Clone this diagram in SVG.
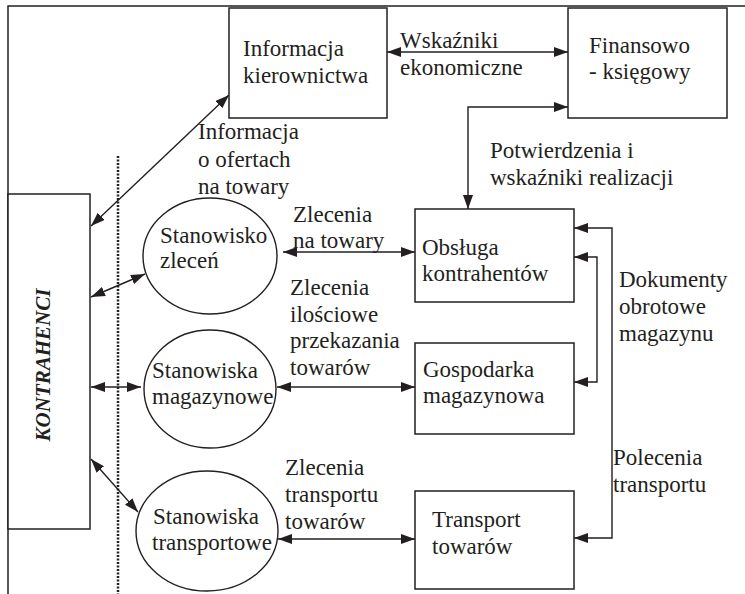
<svg xmlns="http://www.w3.org/2000/svg" width="745" height="594" viewBox="0 0 745 594">
<style>
text{font-family:"Liberation Serif","Times New Roman",serif;font-size:23px;fill:#231f20}
.box{fill:#fff;stroke:#231f20;stroke-width:1.5}
.ell{fill:#fff;stroke:#231f20;stroke-width:1.4}
.ln{fill:none;stroke:#231f20;stroke-width:1.4;marker-start:url(#ah);marker-end:url(#ah)}
.frame{fill:none;stroke:#231f20;stroke-width:1.5}
.kt{font-weight:bold;font-style:italic;font-size:21px}
</style>
<defs>
<marker id="ah" markerUnits="userSpaceOnUse" markerWidth="14" markerHeight="10" refX="14" refY="5" orient="auto-start-reverse" viewBox="0 0 14 10">
<path d="M0,0 L14,5 L0,10 z" fill="#231f20"/>
</marker>
</defs>
<rect width="745" height="594" fill="#fff"/>
<path class="frame" d="M8,594 V6 H745"/>
<line x1="118" y1="156" x2="118" y2="594" stroke="#231f20" stroke-width="2.5" stroke-dasharray="2 1.5"/>

<g id="connectors">
<line class="ln" x1="91" y1="226" x2="229" y2="95"/>
<line class="ln" x1="387" y1="52" x2="568" y2="52"/>
<path class="ln" d="M468,209 V107 H568"/>
<line class="ln" x1="91" y1="297" x2="145" y2="274"/>
<line class="ln" x1="91" y1="387" x2="141" y2="387"/>
<line class="ln" x1="91" y1="459" x2="138" y2="512"/>
<line class="ln" x1="283" y1="252" x2="415" y2="252"/>
<line class="ln" x1="277" y1="387" x2="415" y2="387"/>
<line class="ln" x1="278" y1="539" x2="415" y2="539"/>
<path class="ln" d="M574,228 H612 V538 H574"/>
<path class="ln" d="M574,257 H597 V382 H574"/>
</g>

<g id="labels">
<text x="400" y="48">Wskaźniki</text>
<text x="400" y="75">ekonomiczne</text>
<text x="198" y="139">Informacja</text>
<text x="198" y="167">o ofertach</text>
<text x="198" y="194">na towary</text>
<text x="490" y="158">Potwierdzenia i</text>
<text x="490" y="185">wskaźniki realizacji</text>
<text x="293" y="222">Zlecenia</text>
<text x="293" y="248">na towary</text>
<text x="290" y="295">Zlecenia</text>
<text x="290" y="322">ilościowe</text>
<text x="290" y="348">przekazania</text>
<text x="290" y="375">towarów</text>
<text x="285" y="475">Zlecenia</text>
<text x="285" y="502">transportu</text>
<text x="285" y="529">towarów</text>
<text x="619" y="287">Dokumenty</text>
<text x="619" y="314">obrotowe</text>
<text x="619" y="341">magazynu</text>
<text x="613" y="465">Polecenia</text>
<text x="613" y="492">transportu</text>
</g>

<g id="kontrahenci">
<rect class="box" x="8" y="194" width="82" height="335"/>
<text class="kt" transform="translate(50,365) rotate(-90)" text-anchor="middle">KONTRAHENCI</text>
</g>
<g id="informacja-kierownictwa">
<rect class="box" x="229" y="8" width="158" height="110"/>
<text x="243" y="56">Informacja</text>
<text x="243" y="83">kierownictwa</text>
</g>
<g id="finansowo-ksiegowy">
<rect class="box" x="568" y="8" width="159" height="110"/>
<text x="589" y="53">Finansowo</text>
<text x="589" y="79">- księgowy</text>
</g>
<g id="stanowisko-zlecen">
<ellipse class="ell" cx="210" cy="256" rx="67" ry="58"/>
<text x="160" y="243">Stanowisko</text>
<text x="160" y="268">zleceń</text>
</g>
<g id="stanowiska-magazynowe">
<ellipse class="ell" cx="210" cy="389" rx="66" ry="59"/>
<text x="152" y="378">Stanowiska</text>
<text x="152" y="404">magazynowe</text>
</g>
<g id="stanowiska-transportowe">
<ellipse class="ell" cx="207" cy="531" rx="71" ry="60"/>
<text x="153" y="524">Stanowiska</text>
<text x="152" y="550">transportowe</text>
</g>
<g id="obsluga-kontrahentow">
<rect class="box" x="415" y="209" width="159" height="93"/>
<text x="422" y="255">Obsługa</text>
<text x="422" y="281">kontrahentów</text>
</g>
<g id="gospodarka-magazynowa">
<rect class="box" x="415" y="343" width="159" height="91"/>
<text x="423" y="377">Gospodarka</text>
<text x="423" y="403">magazynowa</text>
</g>
<g id="transport-towarow">
<rect class="box" x="415" y="491" width="159" height="98"/>
<text x="432" y="527">Transport</text>
<text x="432" y="554">towarów</text>
</g>
</svg>
